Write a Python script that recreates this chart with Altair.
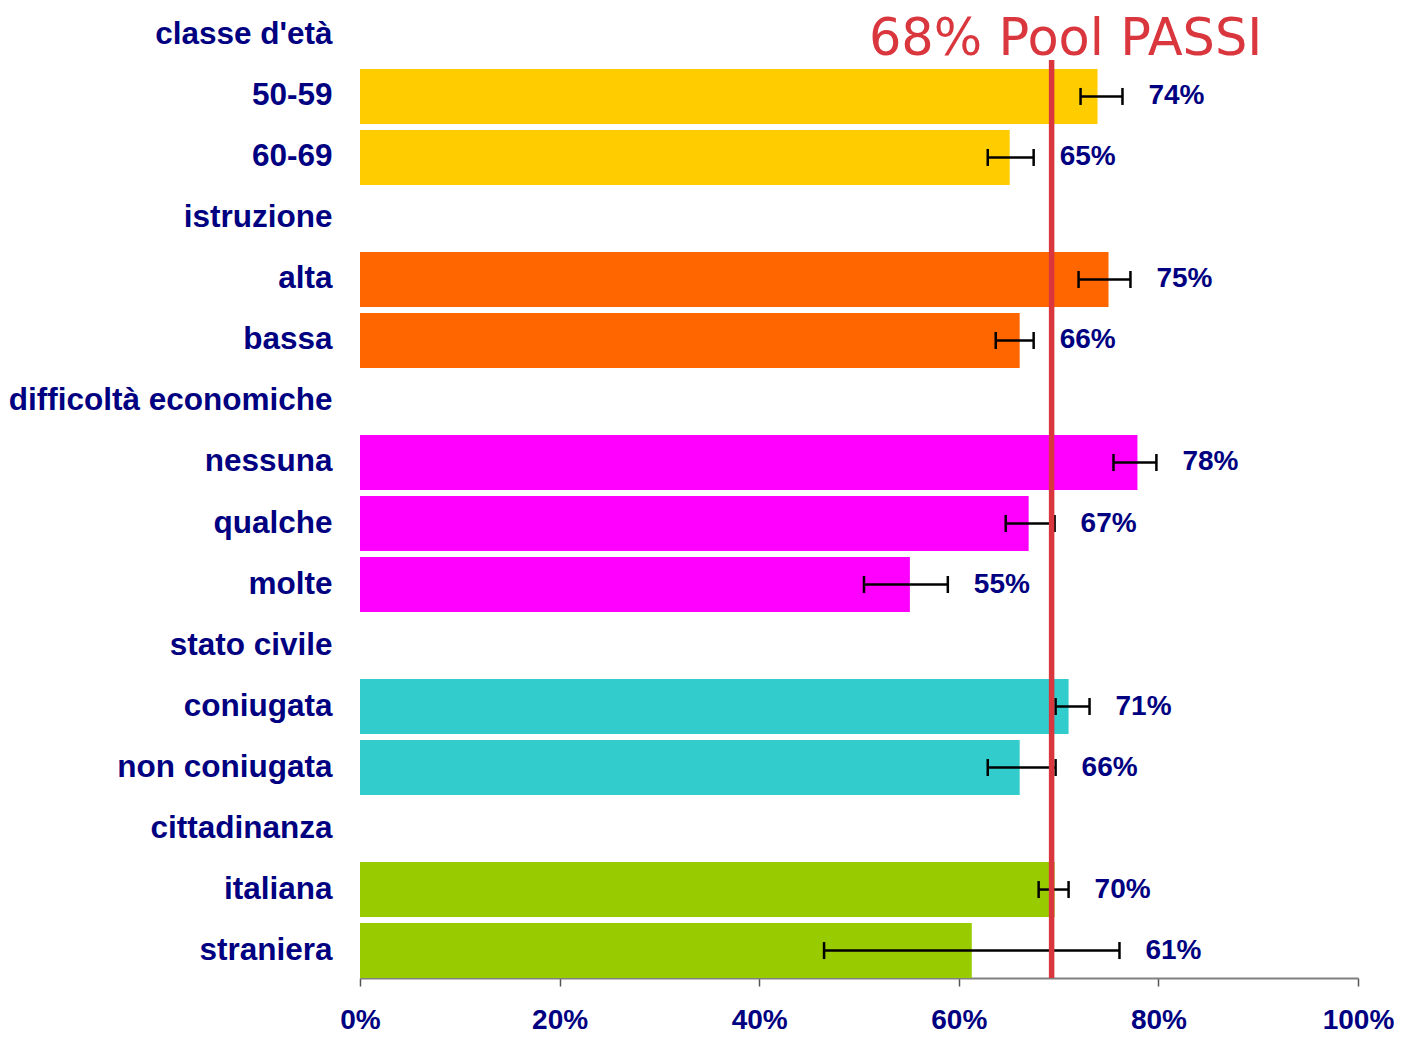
import altair as alt
import pandas as pd

# ---- data ----
rows = ["classe d'età", "50-59", "60-69",
        "istruzione", "alta", "bassa",
        "difficoltà economiche", "nessuna", "qualche", "molte",
        "stato civile", "coniugata", "non coniugata",
        "cittadinanza", "italiana", "straniera"]

categories = ["50-59", "60-69", "alta", "bassa", "nessuna", "qualche", "molte",
              "coniugata", "non coniugata", "italiana", "straniera"]
groups = (["classe d'età"] * 2 + ["istruzione"] * 2 + ["difficoltà economiche"] * 3
          + ["stato civile"] * 2 + ["cittadinanza"] * 2)
values = [73.9, 65.1, 75.0, 66.1, 77.9, 67.0, 55.1, 71.0, 66.1, 69.6, 61.3]
ci_low = [72.2, 62.9, 72.0, 63.7, 75.5, 64.7, 50.5, 69.7, 62.9, 68.0, 46.5]
ci_high = [76.4, 67.5, 77.2, 67.5, 79.8, 69.6, 58.9, 73.1, 69.7, 71.0, 76.1]
value_labels = ["74%", "65%", "75%", "66%", "78%", "67%", "55%", "71%", "66%", "70%", "61%"]

group_names = ["classe d'età", "istruzione", "difficoltà economiche", "stato civile", "cittadinanza"]
group_colors = ["#FFCC00", "#FF6600", "#FF00FF", "#33CCCC", "#99CC00"]

pool_value = 69.3
pool_label = "68% Pool PASSI"

x_ticks = [0, 20, 40, 60, 80, 100]

NAVY = "#000080"
RED = "#D9363E"
FONT = "Liberation Sans"

df = pd.DataFrame({
    "cat": categories, "group": groups, "value": values,
    "lo": ci_low, "hi": ci_high, "label": value_labels,
})
pool_df = pd.DataFrame({"pool": [pool_value], "text": [pool_label],
                        "top": [categories[0]], "bottom": [categories[-1]],
                        "head": [rows[0]]})

yscale = alt.Scale(domain=rows, paddingInner=0.1, paddingOuter=0, align=0.5)
xscale = alt.Scale(domain=[0, 100], nice=False)

y_enc = alt.Y("cat:N", scale=yscale, sort=rows,
              axis=alt.Axis(title=None, domain=False, ticks=False, tickSize=0,
                            labelPadding=28, labelLimit=0, labelFontSize=31.5,
                            labelFont=FONT, labelFontWeight="bold", labelColor=NAVY,
                            labelAlign="right", labelBaseline="middle"))
x_enc = alt.X("value:Q", scale=xscale,
              axis=alt.Axis(title=None, grid=False, values=x_ticks,
                            labelExpr="datum.value + '%'", labelFlush=False,
                            labelFontSize=28, labelFont=FONT, labelFontWeight="bold",
                            labelColor=NAVY, labelPadding=20, labelAlign="center",
                            domainColor="#808080", domainWidth=2,
                            tickColor="#555555", tickWidth=1.5, tickSize=8))

bars = alt.Chart(df).mark_bar(opacity=1).encode(
    x=x_enc,
    y=y_enc,
    color=alt.Color("group:N", scale=alt.Scale(domain=group_names, range=group_colors),
                    legend=None),
)

err = alt.Chart(df).mark_rule(color="black", strokeWidth=2.5).encode(
    x=alt.X("lo:Q", scale=xscale),
    x2="hi:Q",
    y=alt.Y("cat:N", scale=yscale, sort=rows),
)
cap_lo = alt.Chart(df).mark_tick(color="black", thickness=2.5, size=17, opacity=1).encode(
    x=alt.X("lo:Q", scale=xscale),
    y=alt.Y("cat:N", scale=yscale, sort=rows),
)
cap_hi = alt.Chart(df).mark_tick(color="black", thickness=2.5, size=17, opacity=1).encode(
    x=alt.X("hi:Q", scale=xscale),
    y=alt.Y("cat:N", scale=yscale, sort=rows),
)

labels = alt.Chart(df).mark_text(align="left", baseline="middle", dx=26,
                                 fontSize=28, font=FONT, fontWeight="bold",
                                 color=NAVY).encode(
    x=alt.X("hi:Q", scale=xscale),
    y=alt.Y("cat:N", scale=yscale, sort=rows),
    text="label:N",
)

pool_line = alt.Chart(pool_df).mark_rule(color=RED, strokeWidth=5.5, yOffset=-9).encode(
    x=alt.X("pool:Q", scale=xscale),
    y=alt.Y("top:N", scale=yscale, sort=rows, bandPosition=0),
    y2=alt.Y2("bottom:N", bandPosition=1),
)

pool_text = alt.Chart(pool_df).mark_text(align="center", baseline="middle", dx=14, dy=5,
                                         fontSize=51, font="DejaVu Sans",
                                         color=RED).encode(
    x=alt.X("pool:Q", scale=xscale),
    y=alt.Y("head:N", scale=yscale, sort=rows),
    text="text:N",
)

chart = alt.layer(bars, err, cap_lo, cap_hi, pool_line, labels, pool_text).properties(
    width=998, height=970,
    background="white",
    autosize=alt.AutoSizeParams(type="none"),
    padding={"left": 352, "top": 0, "right": 36, "bottom": 55},
).configure_view(stroke=None, strokeWidth=0)

chart.save("out.html", embed_options={"renderer": "svg", "actions": False})
